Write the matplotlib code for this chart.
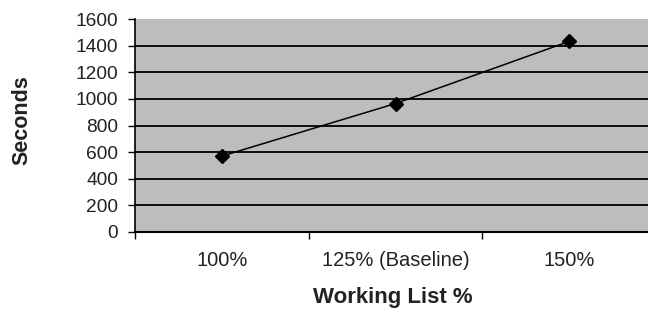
import matplotlib
matplotlib.use("Agg")
from matplotlib import pyplot as plt

plt.rcParams['font.family'] = ['Liberation Sans', 'DejaVu Sans']

categories = ["100%", "125% (Baseline)", "150%"]
seconds = [570, 965, 1432]
y_ticks = [0, 200, 400, 600, 800, 1000, 1200, 1400, 1600]

W, H = 648, 310
fig = plt.figure(figsize=(W / 100, H / 100), dpi=100)
fig.patch.set_facecolor('white')

# plot area runs slightly past the right edge, like the scanned original
ax = fig.add_axes([135 / W, 78 / H, (656 - 135) / W, 213 / H])
ax.set_facecolor('#bdbdbd')

x = list(range(len(categories)))
ax.plot(x, seconds, color='black', linewidth=1.1, marker='D', markersize=7,
        markerfacecolor='black', markeredgecolor='black', zorder=3)

ax.set_xlim(-0.5, len(categories) - 0.5)
ax.set_ylim(0, 1600)

# horizontal gridlines (none at the top)
for v in y_ticks[1:-1]:
    ax.axhline(v, color='black', linewidth=1.3, zorder=1)

ax.set_yticks(y_ticks)
ax.set_yticklabels([str(v) for v in y_ticks], fontsize=13.8, color='#222222')
ax.tick_params(axis='y', length=5, width=1, pad=7, color='black')

# x ticks at category boundaries, labels at category centres
ax.set_xticks([i - 0.5 for i in range(len(categories) + 1)])
ax.set_xticklabels([])
ax.set_xticks(x, minor=True)
ax.set_xticklabels(categories, minor=True, fontsize=14.5, color='#222222')
ax.tick_params(axis='x', which='major', length=5, width=1, color='black')
ax.tick_params(axis='x', which='minor', length=0, pad=14)

for side in ['top', 'right']:
    ax.spines[side].set_visible(False)
ax.spines['left'].set_color('black')
ax.spines['bottom'].set_color('black')
ax.spines['left'].set_linewidth(1.2)
ax.spines['bottom'].set_linewidth(1.5)

fig.text(22 / W, 1 - 120 / H, "Seconds", rotation=90, ha='center', va='center',
         fontsize=15.5, fontweight='bold', color='#222222')
fig.text(393 / W, 1 - 298 / H, "Working List %", ha='center', va='center',
         fontsize=16, fontweight='bold', color='#222222')

fig.savefig("out.png", dpi=100)
